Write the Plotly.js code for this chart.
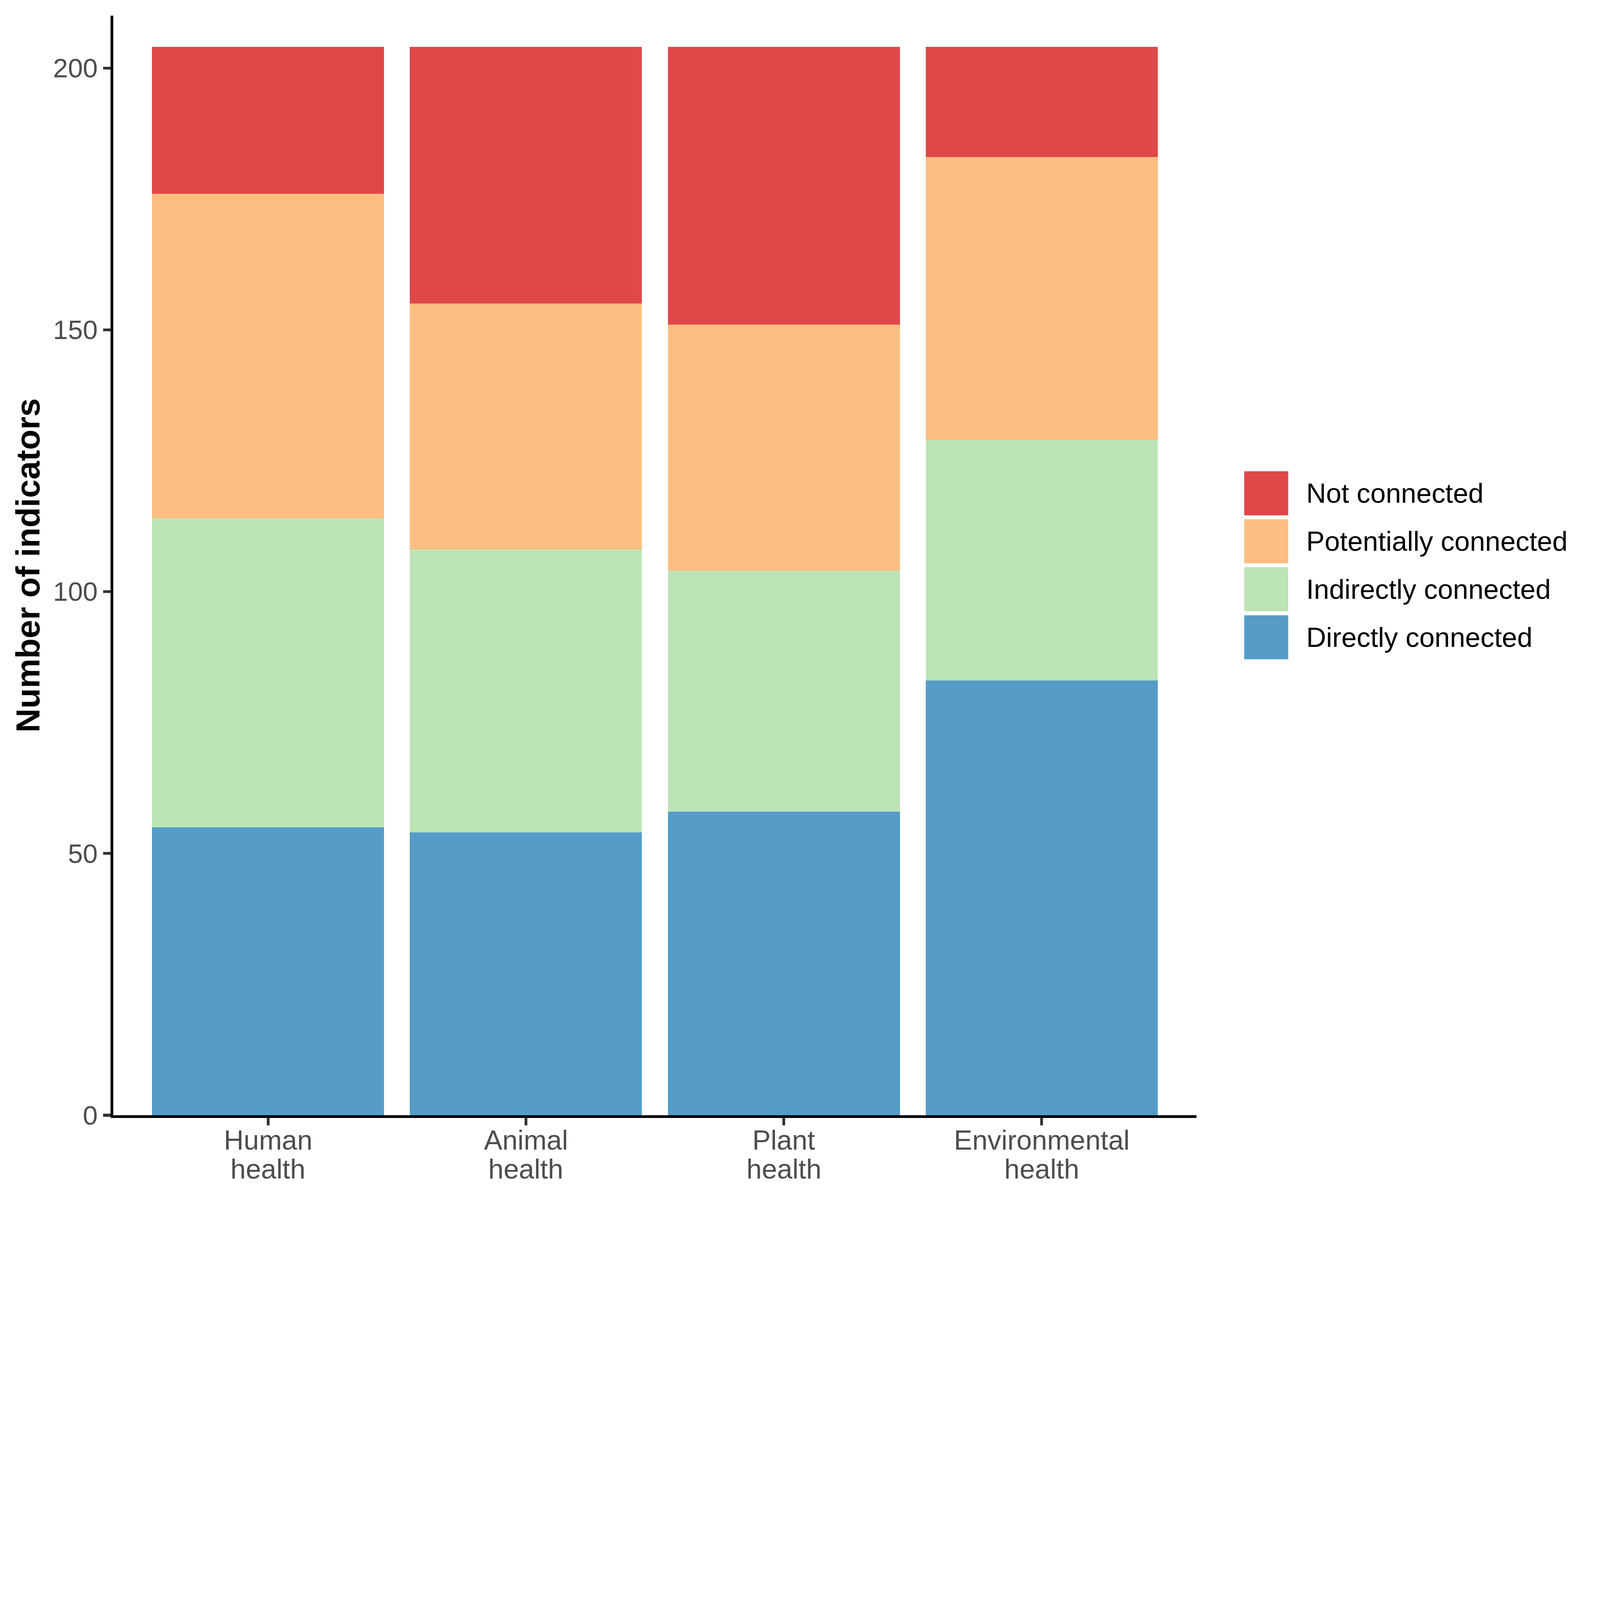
<!DOCTYPE html>
<html>
<head>
<meta charset="utf-8">
<script src="https://cdn.plot.ly/plotly-3.0.1.min.js"></script>
<style>
  html, body { margin: 0; padding: 0; background: #ffffff; overflow: hidden; }
  #chart { position: absolute; left: 0; top: 0; }
</style>
</head>
<body>
<div id="chart"></div>
<script>
// ---- data ----
const categories = ['Human health', 'Animal health', 'Plant health', 'Environmental health'];
const tickLabels = ['Human<br>health', 'Animal<br>health', 'Plant<br>health', 'Environmental<br>health'];
const directlyConnected    = [55, 54, 58, 83];
const indirectlyConnected  = [59, 54, 46, 46];
const potentiallyConnected = [62, 47, 47, 54];
const notConnected         = [28, 49, 53, 21];
const seriesNames  = ['Directly connected', 'Indirectly connected', 'Potentially connected', 'Not connected'];
const seriesColors = ['#559CC8', '#BCE4B6', '#FDBE81', '#DF4749'];
const yTickValues  = [0, 50, 100, 150, 200];
const yAxisTitle   = 'Number of indicators';

// ---- geometry (reference pixels, scaled to the window) ----
const REF_W = 6400, REF_H = 4800;
const vw = window.innerWidth || REF_W, vh = window.innerHeight || REF_H;
const s = Math.min(vw / REF_W, vh / REF_H);
const W = Math.round(REF_W * s), H = Math.round(REF_H * s);
const el = document.getElementById('chart');
el.style.width = W + 'px';
el.style.height = H + 'px';

const L = 453, R = 4786, T = 62, B = 4461;
const PW = R - L, PH = B - T;
const px2x = p => (p - L) / PW;
const py2y = p => (B - p) / PH;

const FONT = '"Liberation Sans", Arial, Helvetica, sans-serif';
const TXT = 110;

const seriesValues = [directlyConnected, indirectlyConnected, potentiallyConnected, notConnected];
const traces = seriesValues.map((vals, i) => ({
  type: 'bar',
  x: categories,
  y: vals,
  name: seriesNames[i],
  marker: { color: seriesColors[i], line: { width: 0 } },
  showlegend: false,
  hoverinfo: 'skip'
}));

const shapes = [];
const annotations = [];

// x tick labels (two lines each, tight line spacing as in the reference)
const lineCenters = [4561, 4676];
categories.forEach((c, j) => {
  tickLabels[j].split('<br>').forEach((line, n) => {
    annotations.push({
      xref: 'x', yref: 'paper',
      x: c, y: py2y(lineCenters[n]),
      xanchor: 'center', yanchor: 'middle',
      text: line, showarrow: false,
      font: { family: FONT, size: TXT * s, color: '#4D4D4D' }
    });
  });
});

// custom legend (top to bottom: reverse order of stacking)
const keyLeft = 4977, keyRight = 5153, keyTop0 = 1885, keySize = 176, keyPitch = 192, textLeft = 5222;
for (let k = 0; k < seriesNames.length; k++) {
  const i = seriesNames.length - 1 - k;
  const top = keyTop0 + k * keyPitch;
  shapes.push({
    type: 'rect', xref: 'paper', yref: 'paper',
    x0: px2x(keyLeft), x1: px2x(keyRight),
    y0: py2y(top + keySize), y1: py2y(top),
    fillcolor: seriesColors[i], line: { width: 0 }, layer: 'above'
  });
  annotations.push({
    xref: 'paper', yref: 'paper',
    x: px2x(textLeft), y: py2y(top + keySize / 2),
    xanchor: 'left', yanchor: 'middle',
    text: seriesNames[i], showarrow: false,
    font: { family: FONT, size: TXT * s, color: '#000000' }
  });
}
// y axis title
annotations.push({
  xref: 'paper', yref: 'paper',
  x: px2x(112), y: py2y((T + B) / 2),
  xanchor: 'center', yanchor: 'middle',
  text: '<b>' + yAxisTitle + '</b>', textangle: -90, showarrow: false,
  font: { family: FONT, size: 133 * s, color: '#000000' }
});

const layout = {
  width: W, height: H,
  paper_bgcolor: '#ffffff', plot_bgcolor: '#ffffff',
  margin: { l: L * s, r: (REF_W - R) * s, t: T * s, b: (REF_H - B) * s, pad: 0, autoexpand: false },
  barmode: 'stack',
  bargap: 0.1,
  showlegend: false,
  font: { family: FONT, size: 107 * s, color: '#4D4D4D' },
  xaxis: {
    type: 'category',
    range: [-0.6, 3.6],
    tickvals: categories,
    showticklabels: false,
    showline: true, linecolor: '#000000', linewidth: 11 * s,
    ticks: 'outside', ticklen: 30 * s, tickwidth: 11 * s, tickcolor: '#333333',
    showgrid: false, zeroline: false
  },
  yaxis: {
    range: [0, 210],
    tickvals: yTickValues,
    showline: true, linecolor: '#000000', linewidth: 11 * s,
    ticks: 'outside', ticklen: 30 * s, tickwidth: 11 * s, tickcolor: '#333333',
    showgrid: false, zeroline: false,
    ticklabelstandoff: 38 * s,
    tickfont: { family: FONT, size: 107 * s, color: '#4D4D4D' }
  },
  shapes: shapes,
  annotations: annotations
};

Plotly.newPlot('chart', traces, layout, { staticPlot: true, displayModeBar: false });
</script>
</body>
</html>
